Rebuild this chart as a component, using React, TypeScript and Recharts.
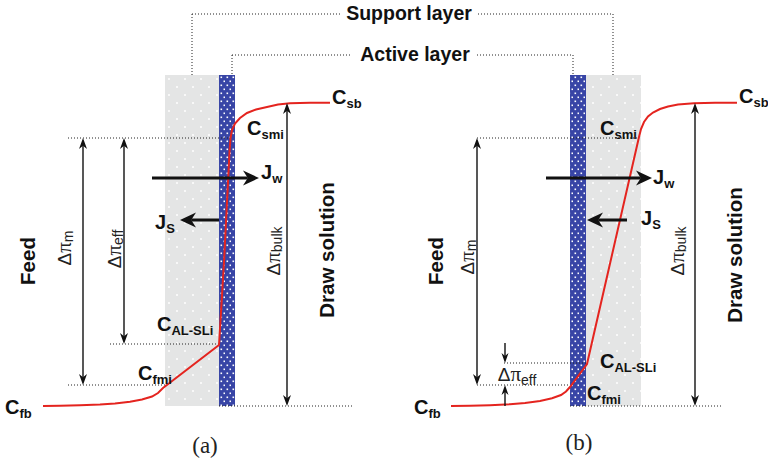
import React from "react";
import {
  ComposedChart,
  Line,
  ReferenceArea,
  ReferenceDot,
  ReferenceLine,
  XAxis,
  YAxis,
} from "recharts";

// figure units: x 0..768, y 0..461 (y grows downward, like the picture)
const W = 768;
const H = 461;

// concentration profiles
const profileA = [
  { x: 43, y: 406 }, { x: 60, y: 405.8 }, { x: 80, y: 405.3 }, { x: 100, y: 404.5 },
  { x: 115, y: 403.5 }, { x: 130, y: 401.8 }, { x: 142, y: 399.5 }, { x: 152, y: 396.5 },
  { x: 158, y: 393 }, { x: 163, y: 388 }, { x: 219, y: 345 }, { x: 221, y: 312 },
  { x: 224, y: 262 }, { x: 226, y: 222 }, { x: 228, y: 182 }, { x: 229.5, y: 152 },
  { x: 230.5, y: 138 }, { x: 232, y: 130 }, { x: 235, y: 123.5 }, { x: 240, y: 118 },
  { x: 247, y: 113 }, { x: 256, y: 109.5 }, { x: 267, y: 107 }, { x: 278, y: 104.5 },
  { x: 290, y: 103.3 }, { x: 310, y: 102.8 }, { x: 330, y: 102.7 },
];
const profileB = [
  { x: 451, y: 406 }, { x: 470, y: 405.8 }, { x: 490, y: 405.2 }, { x: 510, y: 404.2 },
  { x: 525, y: 403 }, { x: 540, y: 401 }, { x: 552, y: 398.3 }, { x: 561, y: 395 },
  { x: 566, y: 391.5 }, { x: 570, y: 387 }, { x: 587, y: 364 }, { x: 639, y: 137 },
  { x: 641, y: 129 }, { x: 644, y: 122 }, { x: 648, y: 116.5 }, { x: 653, y: 112.5 },
  { x: 660, y: 109 }, { x: 668, y: 106.5 }, { x: 678, y: 104.5 }, { x: 694, y: 103.2 },
  { x: 715, y: 102.8 }, { x: 737, y: 102.7 },
];

// membrane layers [x1, x2, y1, y2]
const supportLayers = [
  [165, 219, 75, 406],
  [586, 641, 75, 406],
];
const activeLayers = [
  [219, 235, 75, 406],
  [570, 586, 75, 406],
];

// dotted guide lines [x1, y1, x2, y2]
const guides = [
  [68, 138, 231, 138], [110, 344, 219, 344], [68, 385, 165, 385], [219, 406, 353, 406],
  [477, 138, 639, 138], [504, 363, 587, 363], [477, 385, 570, 385], [570, 406, 722, 406],
  // layer callouts
  [192, 14, 340, 14], [478, 14, 613, 14], [192, 14, 192, 75], [613, 14, 613, 75],
  [232, 55, 352, 55], [477, 55, 573, 55], [232, 55, 232, 75], [573, 55, 573, 75],
];

// thin double arrows (delta pi)
const dimArrows = [
  [83, 138, 83, 385], [124, 138, 124, 344], [287, 103, 287, 406],
  [477, 138, 477, 385], [695, 103, 695, 406],
];
// thin single arrows (delta pi_eff in b)
const smallArrows = [
  [505, 343, 505, 363], [505, 406, 505, 385],
];
// flux arrows
const fluxArrows = [
  [152, 178, 259, 178], [219, 220, 180, 220],
  [546, 178, 652, 178], [627, 220, 587, 220],
];

const chemLabels = [
  { x: 332, y: 104, main: "C", sub: "sb" },
  { x: 247, y: 135, main: "C", sub: "smi" },
  { x: 157, y: 331, main: "C", sub: "AL-SLi" },
  { x: 138, y: 380, main: "C", sub: "fmi" },
  { x: 5, y: 414, main: "C", sub: "fb" },
  { x: 261, y: 179, main: "J", sub: "w" },
  { x: 155, y: 229, main: "J", sub: "S" },
  { x: 739, y: 103, main: "C", sub: "sb" },
  { x: 600, y: 135, main: "C", sub: "smi" },
  { x: 600, y: 368, main: "C", sub: "AL-SLi" },
  { x: 587, y: 400, main: "C", sub: "fmi" },
  { x: 414, y: 414, main: "C", sub: "fb" },
  { x: 653, y: 184, main: "J", sub: "w" },
  { x: 641, y: 225, main: "J", sub: "S" },
];

const sideLabels = [
  { x: 27, y: 261, text: "Feed" },
  { x: 326, y: 250, text: "Draw solution" },
  { x: 435, y: 261, text: "Feed" },
  { x: 734, y: 255, text: "Draw solution" },
];

const deltaLabels = [
  { x: 64, y: 248, sub: "m", rotate: true },
  { x: 114, y: 249, sub: "eff", rotate: true },
  { x: 273, y: 251, sub: "bulk", rotate: true },
  { x: 467, y: 257, sub: "m", rotate: true },
  { x: 677, y: 251, sub: "bulk", rotate: true },
  { x: 517, y: 381, sub: "eff", rotate: false },
];

const titles = [
  { x: 409, y: 20, text: "Support layer" },
  { x: 415, y: 61, text: "Active layer" },
];
const panelTags = [
  { x: 205, y: 453, text: "(a)" },
  { x: 579, y: 450, text: "(b)" },
];

const SANS = "'Liberation Sans', Arial, sans-serif";
const SERIF = "'Liberation Serif', 'Times New Roman', serif";

function head(x: number, y: number, ux: number, uy: number, len: number, half: number) {
  // tip at (x,y), pointing along (ux,uy)
  const bx = x - ux * len;
  const by = y - uy * len;
  const nx = -uy;
  const ny = ux;
  const mx = x - ux * len * 0.7;
  const my = y - uy * len * 0.7;
  return `M${x},${y} L${bx + nx * half},${by + ny * half} L${mx},${my} L${bx - nx * half},${by - ny * half} Z`;
}

function arrowShape(both: boolean, len: number, half: number, width: number) {
  return (p: any) => {
    const { x1, y1, x2, y2 } = p;
    const d = Math.hypot(x2 - x1, y2 - y1) || 1;
    const ux = (x2 - x1) / d;
    const uy = (y2 - y1) / d;
    const sx = both ? x1 + ux * len * 0.7 : x1;
    const sy = both ? y1 + uy * len * 0.7 : y1;
    return (
      <g>
        <line x1={sx} y1={sy} x2={x2 - ux * len * 0.7} y2={y2 - uy * len * 0.7} stroke="#111" strokeWidth={width} />
        <path d={head(x2, y2, ux, uy, len, half)} fill="#111" />
        {both && <path d={head(x1, y1, -ux, -uy, len, half)} fill="#111" />}
      </g>
    );
  };
}

export default function App() {
  return (
    <div style={{ position: "absolute", left: 0, top: 0, width: W, height: H, background: "#fff" }}>
      <svg width={0} height={0} style={{ position: "absolute" }}>
        <defs>
          <pattern id="supportDots" width={16} height={16} patternUnits="userSpaceOnUse" x={165} y={75}>
            <rect width={16} height={16} fill="#e4e5e5" />
            <circle cx={4} cy={4} r={1} fill="#fff" />
            <circle cx={12} cy={12} r={1} fill="#fff" />
          </pattern>
          <pattern id="activeDots" width={6} height={8} patternUnits="userSpaceOnUse" x={219} y={75}>
            <rect width={6} height={8} fill="#3845a6" />
            <rect x={1.5} y={1.5} width={1.6} height={1.6} fill="#fff" />
            <rect x={4.5} y={5.5} width={1.6} height={1.6} fill="#fff" />
          </pattern>
        </defs>
      </svg>
      <ComposedChart width={W} height={H} margin={{ top: 0, right: 0, bottom: 0, left: 0 }}>
        <XAxis type="number" dataKey="x" domain={[0, W]} allowDataOverflow hide />
        <YAxis type="number" domain={[0, H]} allowDataOverflow reversed hide />

        {supportLayers.map(([x1, x2, y1, y2], i) => (
          <ReferenceArea key={`s${i}`} x1={x1} x2={x2} y1={y1} y2={y2} fill="url(#supportDots)" fillOpacity={1} stroke="none" />
        ))}
        {activeLayers.map(([x1, x2, y1, y2], i) => (
          <ReferenceArea key={`a${i}`} x1={x1} x2={x2} y1={y1} y2={y2} fill="url(#activeDots)" fillOpacity={1} stroke="none" />
        ))}

        {guides.map(([x1, y1, x2, y2], i) => (
          <ReferenceLine
            key={`g${i}`}
            segment={[{ x: x1, y: y1 }, { x: x2, y: y2 }]}
            stroke="#222"
            strokeWidth={1}
            strokeDasharray="1 2"
          />
        ))}

        <Line data={profileA} dataKey="y" type="linear" stroke="#e4241f" strokeWidth={2} dot={false} activeDot={false} isAnimationActive={false} />
        <Line data={profileB} dataKey="y" type="linear" stroke="#e4241f" strokeWidth={2} dot={false} activeDot={false} isAnimationActive={false} />

        {dimArrows.map(([x1, y1, x2, y2], i) => (
          <ReferenceLine key={`d${i}`} segment={[{ x: x1, y: y1 }, { x: x2, y: y2 }]} shape={arrowShape(true, 11, 4, 1.4)} />
        ))}
        {smallArrows.map(([x1, y1, x2, y2], i) => (
          <ReferenceLine key={`m${i}`} segment={[{ x: x1, y: y1 }, { x: x2, y: y2 }]} shape={arrowShape(false, 10, 3.5, 1.4)} />
        ))}
        {fluxArrows.map(([x1, y1, x2, y2], i) => (
          <ReferenceLine key={`f${i}`} segment={[{ x: x1, y: y1 }, { x: x2, y: y2 }]} shape={arrowShape(false, 16, 7.5, 3)} />
        ))}

        {chemLabels.map((l, i) => (
          <ReferenceDot
            key={`c${i}`}
            x={l.x}
            y={l.y}
            r={0}
            shape={(p: any) => (
              <text x={p.cx} y={p.cy} fontFamily={SANS} fontWeight="bold" fill="#111">
                <tspan fontSize={20}>{l.main}</tspan>
                <tspan fontSize={13} dy={4}>{l.sub}</tspan>
              </text>
            )}
          />
        ))}

        {sideLabels.map((l, i) => (
          <ReferenceDot
            key={`sl${i}`}
            x={l.x}
            y={l.y}
            r={0}
            shape={(p: any) => (
              <text
                x={p.cx}
                y={p.cy}
                transform={`rotate(-90 ${p.cx} ${p.cy})`}
                textAnchor="middle"
                dominantBaseline="central"
                fontFamily={SANS}
                fontWeight="bold"
                fontSize={20.5}
                fill="#111"
              >
                {l.text}
              </text>
            )}
          />
        ))}

        {deltaLabels.map((l, i) => (
          <ReferenceDot
            key={`dl${i}`}
            x={l.x}
            y={l.y}
            r={0}
            shape={(p: any) => (
              <text
                x={p.cx}
                y={p.cy}
                transform={l.rotate ? `rotate(-90 ${p.cx} ${p.cy})` : undefined}
                textAnchor="middle"
                dominantBaseline={l.rotate ? "central" : "auto"}
                fontFamily={SANS}
                fill="#222"
              >
                <tspan fontSize={19}>Δ</tspan>
                <tspan fontSize={21} fontFamily={SERIF}>π</tspan>
                <tspan fontSize={14} dy={4}>{l.sub}</tspan>
              </text>
            )}
          />
        ))}

        {titles.map((l, i) => (
          <ReferenceDot
            key={`t${i}`}
            x={l.x}
            y={l.y}
            r={0}
            shape={(p: any) => (
              <text x={p.cx} y={p.cy} textAnchor="middle" fontFamily={SANS} fontWeight="bold" fontSize={19.5} fill="#111">
                {l.text}
              </text>
            )}
          />
        ))}

        {panelTags.map((l, i) => (
          <ReferenceDot
            key={`p${i}`}
            x={l.x}
            y={l.y}
            r={0}
            shape={(p: any) => (
              <text x={p.cx} y={p.cy} textAnchor="middle" fontFamily={SERIF} fontSize={23} fill="#222">
                {l.text}
              </text>
            )}
          />
        ))}
      </ComposedChart>
    </div>
  );
}
